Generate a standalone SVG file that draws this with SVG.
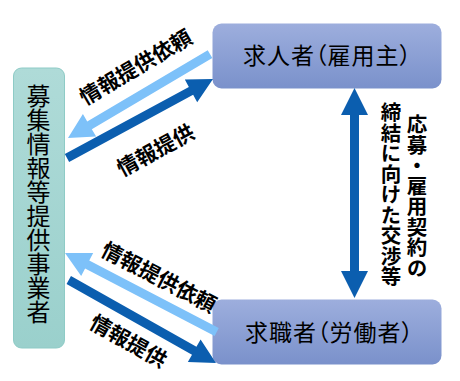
<svg xmlns="http://www.w3.org/2000/svg" width="460" height="381" viewBox="0 0 460 381">
<defs>
<linearGradient id="gBlue" x1="0" y1="0" x2="0" y2="1">
<stop offset="0" stop-color="#9DAEDD"/>
<stop offset="1" stop-color="#7A91CB"/>
</linearGradient>
<linearGradient id="gTeal" x1="0" y1="0" x2="0" y2="1">
<stop offset="0" stop-color="#AFDBD8"/>
<stop offset="1" stop-color="#9AD0CC"/>
</linearGradient>
<style>
.t{font-family:"Noto Sans CJK JP","Noto Sans CJK SC",sans-serif;fill:#000}
.box{font-size:23px;font-feature-settings:"palt";letter-spacing:1px}
.lbl{font-size:21px;font-weight:bold}
.vert{writing-mode:vertical-rl;text-orientation:upright}
.vl{font-size:20.5px;font-weight:bold}
.dark{fill:#0B5EAF}
.light{fill:#7DC1F9}
</style>
</defs>
<rect width="460" height="381" fill="#fff"/>
<g id="node-provider">
<rect x="13.5" y="68" width="51" height="280" rx="8" fill="url(#gTeal)" stroke="#8ECBC6" stroke-width="1"/>
<text class="t vert" x="38.5" y="84" font-size="24">募集情報等提供事業者</text>
</g>
<g id="node-employer">
<rect x="212.5" y="23.5" width="229" height="65" rx="9" fill="url(#gBlue)"/>
<text class="t box" x="327.5" y="64" text-anchor="middle">求人者（雇用主）</text>
</g>
<g id="node-worker">
<rect x="212.5" y="299.5" width="229" height="65" rx="9" fill="url(#gBlue)"/>
<text class="t box" x="329.5" y="341" text-anchor="middle">求職者（労働者）</text>
</g>
<g id="connectors">
<path class="light" transform="translate(68,138) rotate(149.4)" d="M0,0 L-25,-13 L-25,-4.5 L-165,-4.5 L-165,4.5 L-25,4.5 L-25,13 Z"/>
<path class="dark" transform="translate(213,79) rotate(-28.4)" d="M0,0 L-25,-13 L-25,-4.5 L-166,-4.5 L-166,4.5 L-25,4.5 L-25,13 Z"/>
<path class="light" transform="translate(65,253) rotate(207.5)" d="M0,0 L-25,-13 L-25,-4.5 L-171,-4.5 L-171,4.5 L-25,4.5 L-25,13 Z"/>
<path class="dark" transform="translate(216,363) rotate(29.4)" d="M0,0 L-25,-13 L-25,-4.5 L-169,-4.5 L-169,4.5 L-25,4.5 L-25,13 Z"/>
<path class="dark" d="M354.5,88 L368,115 L359,115 L359,271 L368,271 L354.5,298 L341,271 L350,271 L350,115 L341,115 Z"/>
</g>
<g id="labels">
<text class="t lbl" transform="translate(135,66) rotate(-30.5)" text-anchor="middle" dominant-baseline="central">情報提供依頼</text>
<text class="t lbl" transform="translate(155,149) rotate(-28.4)" text-anchor="middle" dominant-baseline="central">情報提供</text>
<text class="t lbl" transform="translate(159.5,276) rotate(27.5)" text-anchor="middle" dominant-baseline="central">情報提供依頼</text>
<text class="t lbl" transform="translate(129,340) rotate(29.4)" text-anchor="middle" dominant-baseline="central">情報提供</text>
<text class="t vert vl" x="417" y="114">応募・雇用契約の</text>
<text class="t vert vl" x="391" y="102">締結に向けた交渉等</text>
</g>
</svg>
